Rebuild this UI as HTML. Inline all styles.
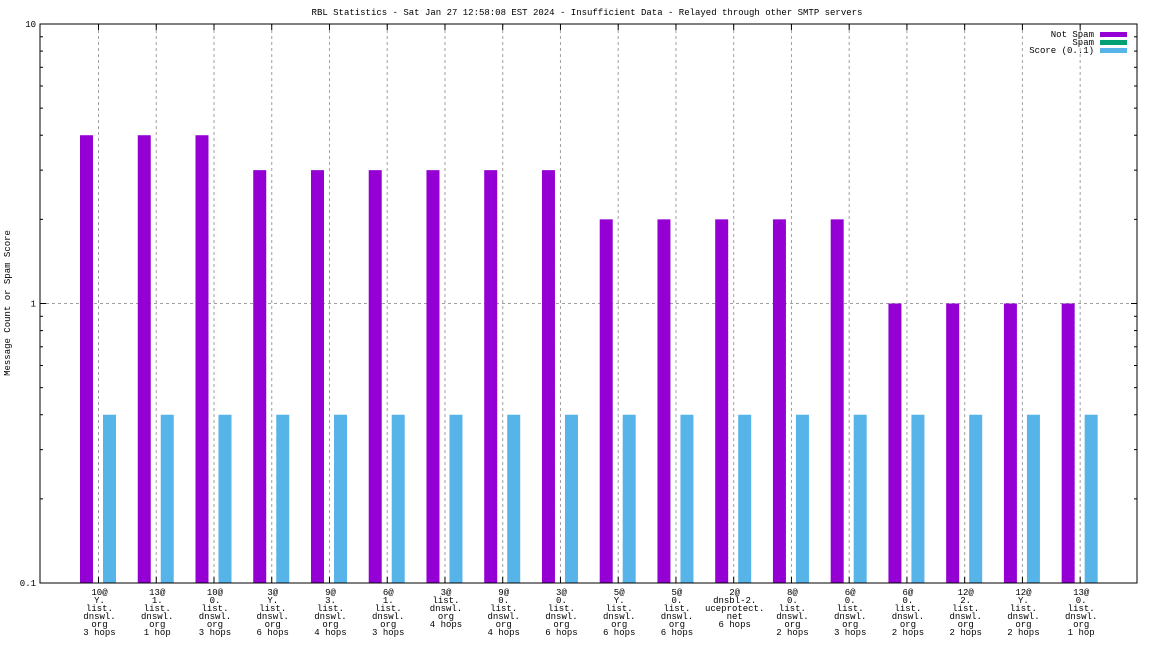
<!DOCTYPE html>
<html><head><meta charset="utf-8"><style>
html,body{margin:0;padding:0;background:#fff;}
svg{display:block;font-family:"Liberation Mono","DejaVu Sans Mono",monospace;}
</style></head><body>
<svg id="chart" width="1152" height="648" viewBox="0 0 1152 648">
<text x="587" y="15" font-size="9" text-anchor="middle">RBL Statistics - Sat Jan 27 12:58:08 EST 2024 - Insufficient Data - Relayed through other SMTP servers</text>
<text transform="translate(10,303) rotate(-90)" font-size="9" text-anchor="middle">Message Count or Spam Score</text>
<g id="grid"></g><g id="bars"></g><g id="axes"></g><g id="labels"></g>
<g>
<text x="1094" y="37" font-size="9" text-anchor="end">Not Spam</text>
<rect x="1100" y="32" width="27" height="5" fill="#9400d3"/>
<text x="1094" y="45" font-size="9" text-anchor="end">Spam</text>
<rect x="1100" y="40" width="27" height="5" fill="#009e73"/>
<text x="1094" y="53" font-size="9" text-anchor="end">Score (0..1)</text>
<rect x="1100" y="48" width="27" height="5" fill="#56b4e9"/>
</g>
</svg>
<script>
const categories = [
["10@","Y.","list.","dnswl.","org","3 hops"],
["13@","1.","list.","dnswl.","org","1 hop"],
["10@","0.","list.","dnswl.","org","3 hops"],
["3@","Y.","list.","dnswl.","org","6 hops"],
["9@","3.","list.","dnswl.","org","4 hops"],
["6@","1.","list.","dnswl.","org","3 hops"],
["3@","list.","dnswl.","org","4 hops"],
["9@","0.","list.","dnswl.","org","4 hops"],
["3@","0.","list.","dnswl.","org","6 hops"],
["5@","Y.","list.","dnswl.","org","6 hops"],
["5@","0.","list.","dnswl.","org","6 hops"],
["2@","dnsbl-2.","uceprotect.","net","6 hops"],
["8@","0.","list.","dnswl.","org","2 hops"],
["6@","0.","list.","dnswl.","org","3 hops"],
["6@","0.","list.","dnswl.","org","2 hops"],
["12@","2.","list.","dnswl.","org","2 hops"],
["12@","Y.","list.","dnswl.","org","2 hops"],
["13@","0.","list.","dnswl.","org","1 hop"]
];
const notSpam = [4,4,4,3,3,3,3,3,3,2,2,2,2,2,1,1,1,1];
const spam = [0,0,0,0,0,0,0,0,0,0,0,0,0,0,0,0,0,0];
const score = [0.4,0.4,0.4,0.4,0.4,0.4,0.4,0.4,0.4,0.4,0.4,0.4,0.4,0.4,0.4,0.4,0.4,0.4];
const yTicks = [0.1,1,10];
const yTickLabels = ["0.1","1","10"];

const NS="http://www.w3.org/2000/svg";
const L=40,R=1137,T=24,B=583;
const yMin=0.1,yMax=10;
function y(v){return B-(Math.log10(v)-Math.log10(yMin))/(Math.log10(yMax)-Math.log10(yMin))*(B-T);}
function x(i){return 98.5+i*(R-L-1)/18.98;}
function mk(tag,attrs,parent){const e=document.createElementNS(NS,tag);for(const k in attrs)e.setAttribute(k,attrs[k]);parent.appendChild(e);return e;}
const grid=document.getElementById('grid'),bars=document.getElementById('bars'),axes=document.getElementById('axes'),labels=document.getElementById('labels');

categories.forEach((c,i)=>{
  const g=mk('line',{x1:x(i),x2:x(i),y1:T,y2:B,stroke:'#a0a0a0','stroke-dasharray':'3,3'},grid);
  
  
  const t1=mk('line',{x1:x(i),x2:x(i),y1:T,y2:T+6,stroke:'#000'},axes);
  
  
  const t2=mk('line',{x1:x(i),x2:x(i),y1:B,y2:B-6,stroke:'#000'},axes);
  
  
  const tx=mk('text',{x:x(i)+1,y:595,'font-size':9,'text-anchor':'middle'},labels);
  
  
  c.forEach((s,k)=>{const ts=mk('tspan',{x:x(i)+1,dy:k?8:0},tx);ts.textContent=s;});
  if(notSpam[i]>yMin){
    const b=mk('rect',{x:x(i)-18.5,y:y(notSpam[i]),width:13,height:B-y(notSpam[i]),fill:'#9400d3'},bars);
    
    
  }
  if(spam[i]>yMin){
    const b=mk('rect',{x:x(i)-6.5,y:y(spam[i]),width:13,height:B-y(spam[i]),fill:'#009e73'},bars);
    
    
  }
  if(score[i]>yMin){
    const b=mk('rect',{x:x(i)+4.5,y:y(score[i]),width:13,height:B-y(score[i]),fill:'#56b4e9'},bars);
    
    
  }
});
// horizontal gridline at 1 and ticks
yTicks.forEach((v,k)=>{
  if(v>yMin&&v<yMax){
    const g=mk('line',{x1:L,x2:R,y1:y(v),y2:y(v),stroke:'#a0a0a0','stroke-dasharray':'3,3'},grid);
    
    
  }
  const tl=mk('text',{x:L-4,y:y(v)+3,'font-size':9,'text-anchor':'end'},labels);
  
  
  tl.textContent=yTickLabels[k];
  [[L,L+6],[R,R-6]].forEach(p=>{const t=mk('line',{x1:p[0],x2:p[1],y1:y(v),y2:y(v),stroke:'#000'},axes);
    
    });
});
[0.1,1].forEach(d=>{for(let m=2;m<=9;m++){const v=d*m;
  [[L,L+3],[R,R-3]].forEach(p=>{const t=mk('line',{x1:p[0],x2:p[1],y1:y(v),y2:y(v),stroke:'#000'},axes);
    
    });}});
const frame=mk('rect',{x:L,y:T,width:R-L,height:B-T,fill:'none',stroke:'#000'},axes);


</script>
</body></html>
